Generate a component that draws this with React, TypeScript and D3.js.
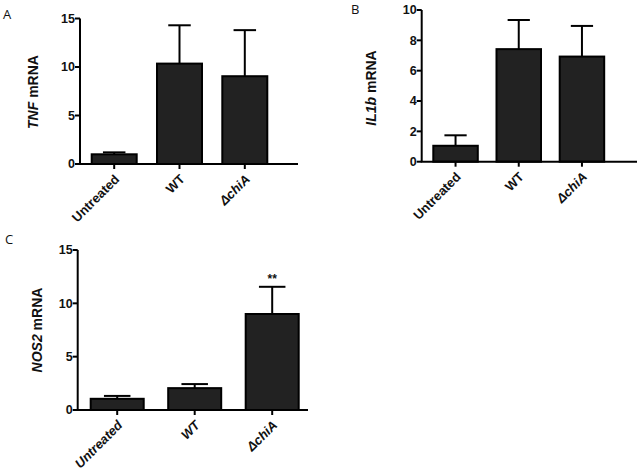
import React, { useRef, useEffect } from 'react';
import * as d3 from 'd3';

const categories = ['Untreated', 'WT', 'ΔchiA'];

const tnfMean = [1.0, 10.35, 9.05];
const tnfErr = [0.2, 3.95, 4.75];
const tnfTicks = [0, 5, 10, 15];

const il1bMean = [1.05, 7.42, 6.93];
const il1bErr = [0.69, 1.92, 2.02];
const il1bTicks = [0, 2, 4, 6, 8, 10];

const nos2Mean = [1.05, 2.05, 9.0];
const nos2Err = [0.27, 0.38, 2.55];
const nos2Ticks = [0, 5, 10, 15];
const nos2Stars = ['', '', '**'];

const FONT = "'Liberation Sans', Arial, sans-serif";
const LETTER_FONT = "'Open Sans', 'DejaVu Sans', sans-serif";

type PanelCfg = {
    letter: string;
    letterX: number;
    letterY: number;
    gene: string;
    labelX: number;
    labelY: number;
    mean: number[];
    err: number[];
    ticks: number[];
    stars?: string[];
    axisX: number;
    axisEnd: number;
    y0: number;
    yTop: number;
    band: [number, number];
    pad: number;
    italicCats: boolean;
};

const panels: PanelCfg[] = [
    {
        letter: 'A', letterX: 3, letterY: 18.5, gene: 'TNF', labelX: 38, labelY: 92,
        mean: tnfMean, err: tnfErr, ticks: tnfTicks,
        axisX: 80, axisEnd: 298, y0: 164, yTop: 18.5, band: [91.7, 267.3], pad: 0.311, italicCats: false
    },
    {
        letter: 'B', letterX: 351, letterY: 14, gene: 'IL1b', labelX: 376, labelY: 88,
        mean: il1bMean, err: il1bErr, ticks: il1bTicks,
        axisX: 421.7, axisEnd: 637, y0: 161.7, yTop: 10, band: [433.3, 604.2], pad: 0.296, italicCats: false
    },
    {
        letter: 'C', letterX: 5, letterY: 243.5, gene: 'NOS2', labelX: 42, labelY: 330,
        mean: nos2Mean, err: nos2Err, ticks: nos2Ticks, stars: nos2Stars,
        axisX: 77.7, axisEnd: 308, y0: 410, yTop: 250, band: [90.7, 298.7], pad: 0.316, italicCats: true
    }
];

const App = () => {
    const svgRef = useRef<SVGSVGElement>(null);

    useEffect(() => {
        const width = 637;
        const height = 470;

        const svg = d3.select(svgRef.current)
            .attr('width', width)
            .attr('height', height);

        svg.selectAll('*').remove();

        svg.append('rect')
            .attr('width', width)
            .attr('height', height)
            .attr('fill', 'white');

        panels.forEach(p => {
            const g = svg.append('g');
            const yMax = p.ticks[p.ticks.length - 1];

            const x = d3.scaleBand<string>()
                .domain(categories)
                .range(p.band)
                .paddingInner(p.pad)
                .paddingOuter(0);

            const y = d3.scaleLinear()
                .domain([0, yMax])
                .range([p.y0, p.yTop]);

            const bw = x.bandwidth();
            const cx = (c: string) => (x(c) as number) + bw / 2;

            // lettre du panneau
            g.append('text')
                .attr('x', p.letterX)
                .attr('y', p.letterY)
                .attr('font-family', LETTER_FONT)
                .attr('font-size', 13)
                .attr('fill', '#111')
                .text(p.letter);

            // titre de l'axe y
            const lab = g.append('text')
                .attr('transform', `translate(${p.labelX},${p.labelY}) rotate(-90)`)
                .attr('text-anchor', 'middle')
                .attr('font-family', FONT)
                .attr('font-weight', 'bold')
                .attr('font-size', 14)
                .attr('fill', '#111');
            lab.append('tspan').attr('font-style', 'italic').text(p.gene);
            lab.append('tspan').text(' mRNA');

            // barres + barres d'erreur
            categories.forEach((c, i) => {
                const top = y(p.mean[i]);
                const eTop = y(p.mean[i] + p.err[i]);
                g.append('line')
                    .attr('x1', cx(c)).attr('x2', cx(c))
                    .attr('y1', top).attr('y2', eTop)
                    .attr('stroke', '#000').attr('stroke-width', 2);
                g.append('line')
                    .attr('x1', cx(c) - bw / 4).attr('x2', cx(c) + bw / 4)
                    .attr('y1', eTop).attr('y2', eTop)
                    .attr('stroke', '#000').attr('stroke-width', 2);
                g.append('rect')
                    .attr('x', x(c) as number)
                    .attr('y', top)
                    .attr('width', bw)
                    .attr('height', p.y0 - top)
                    .attr('fill', '#222')
                    .attr('stroke', '#000')
                    .attr('stroke-width', 2);
                if (p.stars && p.stars[i]) {
                    g.append('text')
                        .attr('x', cx(c))
                        .attr('y', eTop - 4)
                        .attr('text-anchor', 'middle')
                        .attr('font-family', FONT)
                        .attr('font-weight', 'bold')
                        .attr('font-size', 12)
                        .attr('fill', '#111')
                        .text(p.stars[i]);
                }
            });

            // axe y
            g.append('line')
                .attr('x1', p.axisX).attr('x2', p.axisX)
                .attr('y1', p.y0).attr('y2', y(yMax))
                .attr('stroke', '#000').attr('stroke-width', 2);
            p.ticks.forEach(t => {
                g.append('line')
                    .attr('x1', p.axisX - 5).attr('x2', p.axisX)
                    .attr('y1', y(t)).attr('y2', y(t))
                    .attr('stroke', '#000').attr('stroke-width', 2);
                g.append('text')
                    .attr('x', p.axisX - 5)
                    .attr('y', y(t))
                    .attr('dy', '0.35em')
                    .attr('text-anchor', 'end')
                    .attr('font-family', FONT)
                    .attr('font-weight', 'bold')
                    .attr('font-size', 12.5)
                    .attr('fill', '#111')
                    .text(t);
            });

            // axe x
            g.append('line')
                .attr('x1', p.axisX - 1).attr('x2', p.axisEnd)
                .attr('y1', p.y0).attr('y2', p.y0)
                .attr('stroke', '#000').attr('stroke-width', 2);
            categories.forEach(c => {
                g.append('line')
                    .attr('x1', cx(c)).attr('x2', cx(c))
                    .attr('y1', p.y0).attr('y2', p.y0 + 5)
                    .attr('stroke', '#000').attr('stroke-width', 2);
                const italic = p.italicCats || c === 'ΔchiA';
                const tx = cx(c) + 6;
                const ty = p.y0 + 16;
                g.append('text')
                    .attr('x', tx)
                    .attr('y', ty)
                    .attr('transform', `rotate(-45 ${tx} ${ty})`)
                    .attr('text-anchor', 'end')
                    .attr('font-family', FONT)
                    .attr('font-weight', 'bold')
                    .attr('font-style', italic ? 'italic' : 'normal')
                    .attr('font-size', 13)
                    .attr('fill', '#111')
                    .text(c);
            });
        });
    }, []);

    return <svg ref={svgRef} style={{ position: 'absolute', left: 0, top: 0 }}></svg>;
};

export default App;
